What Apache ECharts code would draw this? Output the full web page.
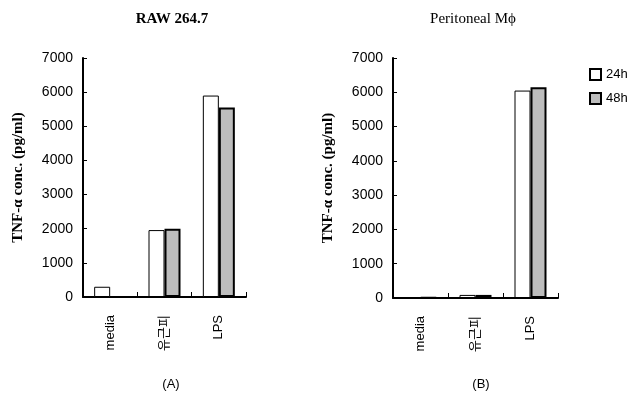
<!DOCTYPE html>
<html lang="en">
<head>
  <meta charset="UTF-8" />
  <script src="https://cdn.jsdelivr.net/npm/echarts@6/dist/echarts.min.js"></script>
  <title>TNF-a</title>
</head>
<body style="margin:0;background:#fff">
  <div id="main" style="width: 630px; height: 396px;"></div>
  <script type="text/javascript">
    var categories = ["media", "유근피", "LPS"];
    var rawH24 = [300, 1960, 5900];
    var rawH48 = [0, 2000, 5550];
    var perH24 = [15, 90, 6050];
    var perH48 = [15, 90, 6150];

    var serif = "Liberation Serif";
    var sans = "Liberation Sans, Noto Sans CJK KR";

    function yAxisOf(gridIndex) {
      return {
        gridIndex: gridIndex,
        type: "value",
        min: 0,
        max: 7000,
        interval: 1000,
        name: "TNF-α conc. (pg/ml)",
        nameLocation: "middle",
        nameGap: 57,
        nameTextStyle: { fontFamily: serif, fontWeight: "bold", fontSize: 15, color: "#000" },
        axisLine: { show: true, lineStyle: { color: "#000", width: 2 } },
        axisTick: { show: true, inside: true, length: 4, lineStyle: { color: "#000" } },
        axisLabel: { fontFamily: sans, fontSize: 14, color: "#000", margin: 10,
          formatter: function (v) { return String(v); } },
        splitLine: { show: false }
      };
    }

    function xAxisOf(gridIndex) {
      return {
        gridIndex: gridIndex,
        type: "category",
        data: categories,
        axisLine: { lineStyle: { color: "#000", width: 2 } },
        axisTick: { show: true, inside: true, length: 5, lineStyle: { color: "#000" } },
        axisLabel: { rotate: 90, fontFamily: sans, fontSize: 13, color: "#000", margin: 18 }
      };
    }

    var white = { color: "#fff", borderColor: "#000", borderWidth: 1 };
    var grey = { color: "#bdbdbd", borderColor: "#000", borderWidth: 2 };

    var chart = echarts.init(document.getElementById("main"));
    chart.setOption({
      animation: false,
      backgroundColor: "#fff",
      title: [
        { text: "RAW 264.7", left: 167, top: 7, textAlign: "center",
          textStyle: { fontFamily: serif, fontWeight: "bold", fontSize: 15, color: "#000" } },
        { text: "Peritoneal Mϕ", left: 468, top: 7, textAlign: "center",
          textStyle: { fontFamily: serif, fontWeight: "normal", fontSize: 15, color: "#000" } },
        { text: "(A)", left: 166, top: 373, textAlign: "center",
          textStyle: { fontFamily: sans, fontWeight: "normal", fontSize: 13, color: "#000" } },
        { text: "(B)", left: 476, top: 373, textAlign: "center",
          textStyle: { fontFamily: sans, fontWeight: "normal", fontSize: 13, color: "#000" } }
      ],
      legend: {
        data: ["24h", "48h"],
        orient: "vertical",
        left: 584,
        top: 63,
        itemWidth: 11,
        itemHeight: 11,
        itemGap: 11,
        icon: "rect",
        textStyle: { fontFamily: sans, fontSize: 13, color: "#000" }
      },
      grid: [
        { left: 83, right: 384, top: 58, bottom: 99 },
        { left: 393, right: 72, top: 58, bottom: 98 }
      ],
      xAxis: [xAxisOf(0), xAxisOf(1)],
      yAxis: [yAxisOf(0), yAxisOf(1)],
      series: [
        { name: "24h", type: "bar", xAxisIndex: 0, yAxisIndex: 0, data: rawH24,
          barWidth: 16, barGap: "0%", itemStyle: white },
        { name: "48h", type: "bar", xAxisIndex: 0, yAxisIndex: 0, data: rawH48,
          barWidth: 16, barGap: "0%", itemStyle: grey },
        { name: "24h", type: "bar", xAxisIndex: 1, yAxisIndex: 1, data: perH24,
          barWidth: 16, barGap: "0%", itemStyle: white },
        { name: "48h", type: "bar", xAxisIndex: 1, yAxisIndex: 1, data: perH48,
          barWidth: 16, barGap: "0%", itemStyle: grey }
      ]
    });
  </script>
</body>
</html>
